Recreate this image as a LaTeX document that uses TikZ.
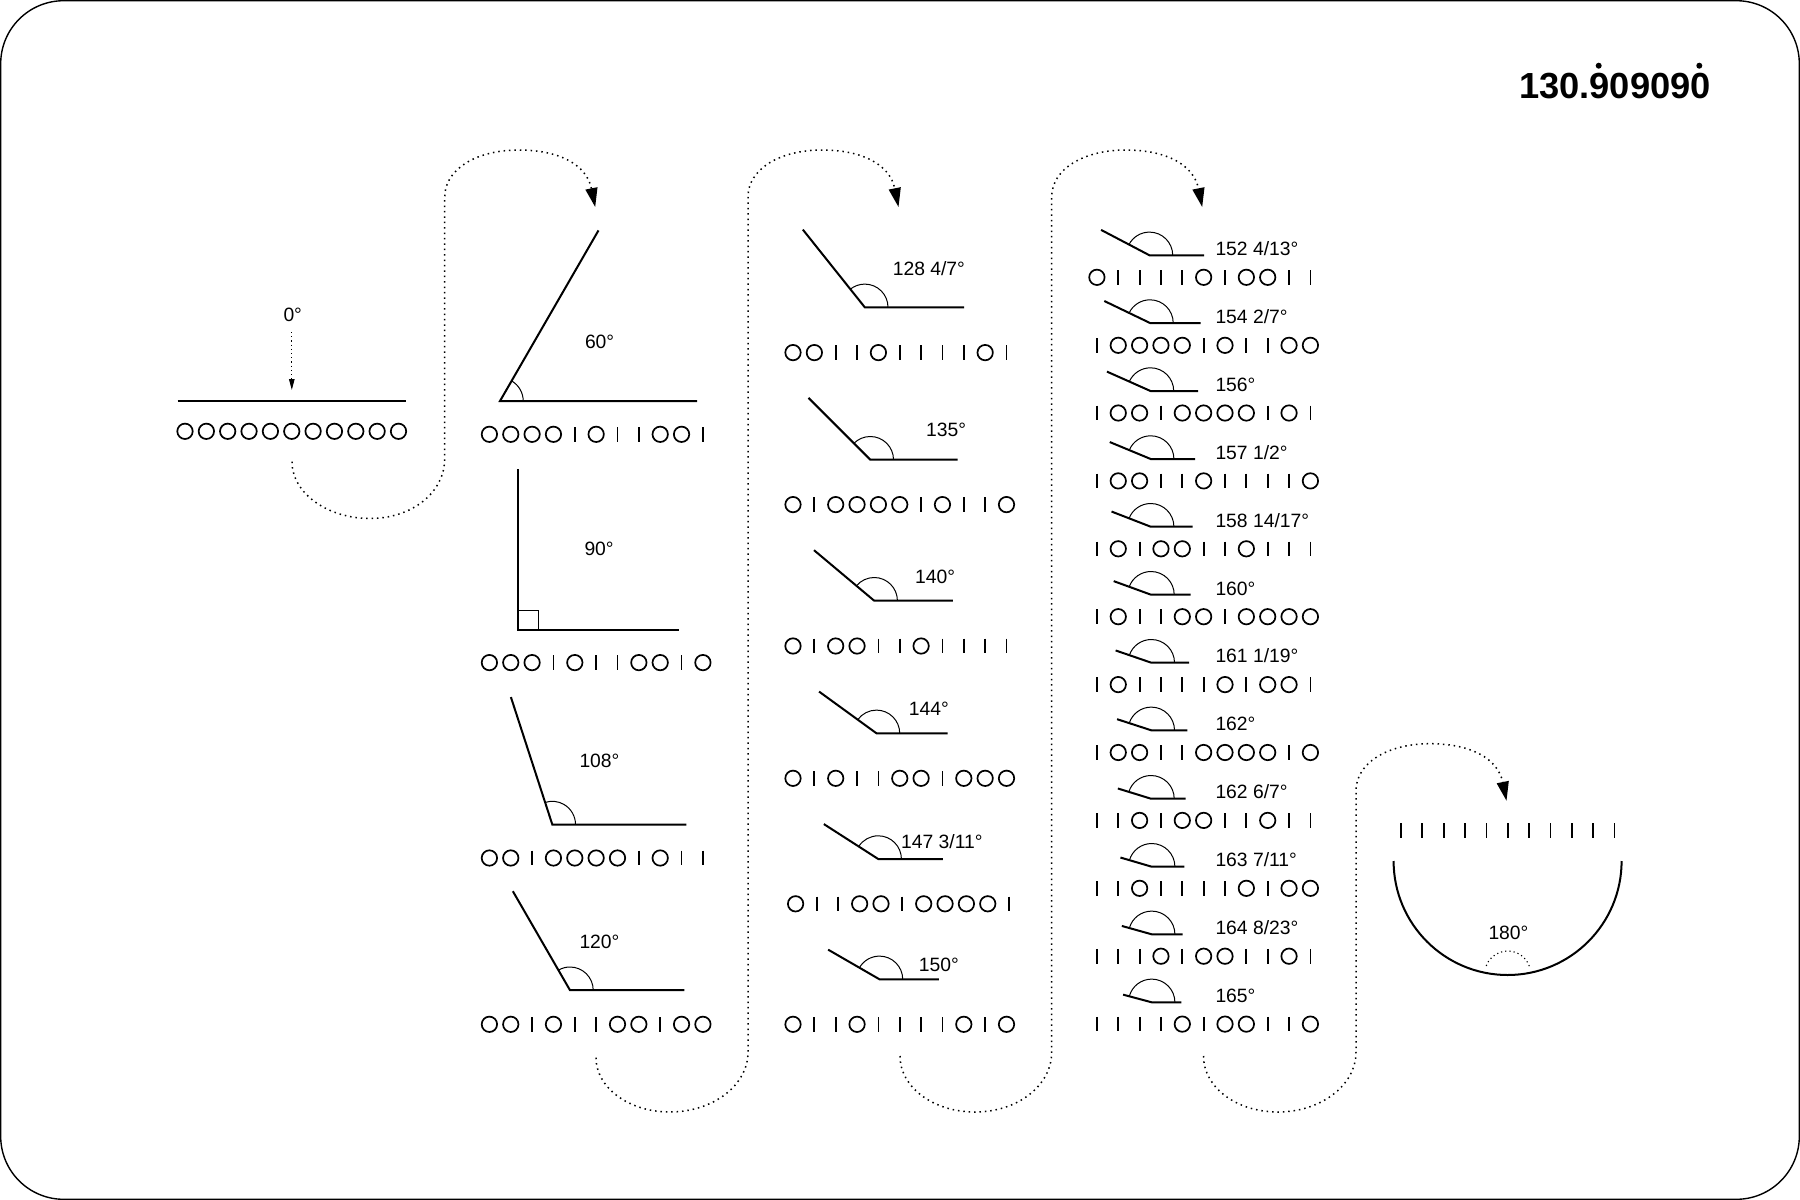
\documentclass[tikz,border=0pt]{standalone}
\usepackage{fontspec}
\setmainfont{Liberation Sans}
\usetikzlibrary{arrows.meta}

\tikzset{
  frameline/.style={line width=1.4},
  armline/.style={line width=2},
  arcline/.style={line width=1},
  ringmark/.style={line width=1.7},
  barmark/.style={line width=1.8},
  connline/.style={line width=1.5,dash pattern=on 1.5 off 3.9,-{Triangle[length=19,width=12]}},
  anglelabel/.style={anchor=base west,inner sep=0,xshift=-0.7,font=\fontsize{19.3}{22}\selectfont},
}

% one row of eleven marks, 1 is a ring and 0 a bar
\newcommand{\glyphrow}[3]{
  \foreach \g [count=\i from 0] in {#3} {
    \ifnum\g=1
      \draw [ringmark] (#1+\i*21.35,#2-0.7) circle (7.7);
    \else
      \draw [barmark] (#1+\i*21.35,#2-8) -- (#1+\i*21.35,#2+6.6);
    \fi
  }
}

\begin{document}
\begin{tikzpicture}[x=1pt,y=-1pt]
  \useasboundingbox (0,0) rectangle (1800,1200);
  \draw [frameline,rounded corners=63] (0.7,0.7) rectangle (1799.3,1199.3);

  \node [anglelabel,font=\fontsize{36.3}{40}\selectfont\bfseries] (title) at (1519.5,98.6) {130.909090};
  \fill (1598.7,65.7) circle (3);
  \fill (1699.3,65.7) circle (3);

  % start of the series
  \node [anglelabel] (lab0) at (284,321) {0°};
  \coordinate (zerotop) at (291.8,332);
  \coordinate (zerotip) at (291.8,390);
  \draw [line width=1.1,dash pattern=on 1.2 off 3,-{Triangle[length=11,width=5.5]}] (zerotop) -- (zerotip);
  \draw [armline] (177.5,401) -- (406.4,401);
  \glyphrow{185}{432}{1,1,1,1,1,1,1,1,1,1,1}

  % right angle has a square mark
  \draw [armline] (518,469) -- (518,629.5) -- (679,629.5);
  \draw [arcline] (518,610) -- (538.5,610) -- (538.5,629.5);
  \node [anglelabel] (lab90) at (585,555) {90°};

  \foreach \n/\vx/\vy/\ang/\arm/\lx/\ly/\txt in {
      a60/500/401/60/197/585.5/348/{60°},
      a108/552.3/824.5/108/134/580/767/{108°},
      a120/570/990.2/120/114.3/580/948/{120°},
      a128/864.8/307.3/128.571/99.4/893.3/275.7/{128 4/7°},
      a135/870.3/459.7/135/87.4/926.7/436/{135°},
      a140/874.2/600.7/140/78.6/915.7/583.3/{140°},
      a144/876.5/733.3/144/71/909.3/715.7/{144°},
      a147/878.2/859/147.273/64.6/901.7/848.3/{147 3/11°},
      a150/879.5/979.3/150/59.3/919.3/971/{150°},
      a152/1149.5/255.3/152.308/54.7/1216/255.3/{152 4/13°},
      a154/1150/323/154.286/50.7/1216/323.3/{154 2/7°},
      a156/1150.5/391/156/47.7/1216/391.3/{156°},
      a157/1150.7/459/157.5/44.3/1216/459/{157 1/2°},
      a158/1150.7/526.7/158.824/42/1216/527.2/{158 14/17°},
      a160/1151/594.7/160/39.7/1216/595.2/{160°},
      a161/1151.3/662.7/161.053/37.7/1216/662.7/{161 1/19°},
      a162/1151.3/730.3/162/36/1216/730.3/{162°},
      a162b/1151/798.7/162.857/34.7/1216/798.7/{162 6/7°},
      a163/1151.7/866.7/163.636/32.6/1216/866.7/{163 7/11°},
      a164/1151.7/934.3/164.348/31/1216/934.3/{164 8/23°},
      a165/1151.7/1002.3/165/29.6/1216/1002.3/{165°}} {
    \draw [armline] (\vx,\vy) ++(-\ang:\arm) -- (\vx,\vy) -- ++(\arm,0);
    \draw [arcline] (\vx,\vy) ++(23.2,0) arc (0:-\ang:23.2);
    \node [anglelabel] (lab\n) at (\lx,\ly) {\txt};
  }

  \glyphrow{489.4}{435}{1,1,1,1,0,1,0,0,1,1,0}
  \glyphrow{489.4}{663.3}{1,1,1,0,1,0,0,1,1,0,1}
  \glyphrow{489.4}{858.7}{1,1,0,1,1,1,1,0,1,0,0}
  \glyphrow{489.4}{1025}{1,1,0,1,0,0,1,1,0,1,1}

  \glyphrow{793}{353.3}{1,1,0,0,1,0,0,0,0,1,0}
  \glyphrow{793}{505.3}{1,0,1,1,1,1,0,1,0,0,1}
  \glyphrow{793}{646.7}{1,0,1,1,0,0,1,0,0,0,0}
  \glyphrow{793}{779}{1,0,1,0,0,1,1,0,1,1,1}
  \glyphrow{795.6}{904.5}{1,0,0,1,1,0,1,1,1,1,0}
  \glyphrow{793}{1025}{1,0,0,1,0,0,0,0,1,0,1}

  \glyphrow{1096.9}{278}{1,0,0,0,0,1,0,1,1,0,0}
  \glyphrow{1096.9}{346}{0,1,1,1,1,0,1,0,0,1,1}
  \glyphrow{1096.9}{413.7}{0,1,1,0,1,1,1,1,0,1,0}
  \glyphrow{1096.9}{481.6}{0,1,1,0,0,1,0,0,0,0,1}
  \glyphrow{1096.9}{549.5}{0,1,0,1,1,0,0,1,0,0,0}
  \glyphrow{1096.9}{617.4}{0,1,0,0,1,1,0,1,1,1,1}
  \glyphrow{1096.9}{685.3}{0,1,0,0,0,0,1,0,1,1,0}
  \glyphrow{1096.9}{753.2}{0,1,1,0,0,1,1,1,1,0,1}
  \glyphrow{1096.9}{821.1}{0,0,1,0,1,1,0,0,1,0,0}
  \glyphrow{1096.9}{889}{0,0,1,0,0,0,0,1,0,1,1}
  \glyphrow{1096.9}{956.9}{0,0,0,1,0,1,1,0,0,1,0}
  \glyphrow{1096.9}{1024.8}{0,0,0,0,1,0,1,1,0,0,1}

  % end of the series
  \glyphrow{1401}{831}{0,0,0,0,0,0,0,0,0,0,0}
  \draw [armline] (1393.6,861) arc (180:0:114);
  \draw [line width=1.1,dash pattern=on 1.2 off 3] (1507.7,974) ++(-20:23) arc (-20:-160:23);
  \node [anglelabel] (lab180) at (1489,939.5) {180°};

  % dotted connectors between the columns
  \foreach \n/\sx/\sy/\mx/\by/\vx/\ty in {
      c1/292/461.7/370/518.5/444.7/207,
      c2/596/1057.7/670/1112/748/207,
      c3/900/1056/975/1112/1051.7/207,
      c4/1203.5/1056/1278/1112/1356/800.7} {
    \coordinate (start\n) at (\sx,\sy);
    \coordinate (tip\n) at (\vx+150.5,\ty);
    \draw [connline] (start\n) .. controls (\sx,\by-25) and (\mx-42,\by) .. (\mx,\by)
      .. controls (\mx+42,\by) and (\vx,\by-26) .. (\vx,\by-60)
      -- (\vx,\ty-10) .. controls (\vx,\ty-38) and (\vx+32,\ty-57) .. (\vx+74,\ty-57)
      .. controls (\vx+115,\ty-57) and (\vx+142,\ty-42) .. (tip\n);
  }
\end{tikzpicture}
\end{document}
